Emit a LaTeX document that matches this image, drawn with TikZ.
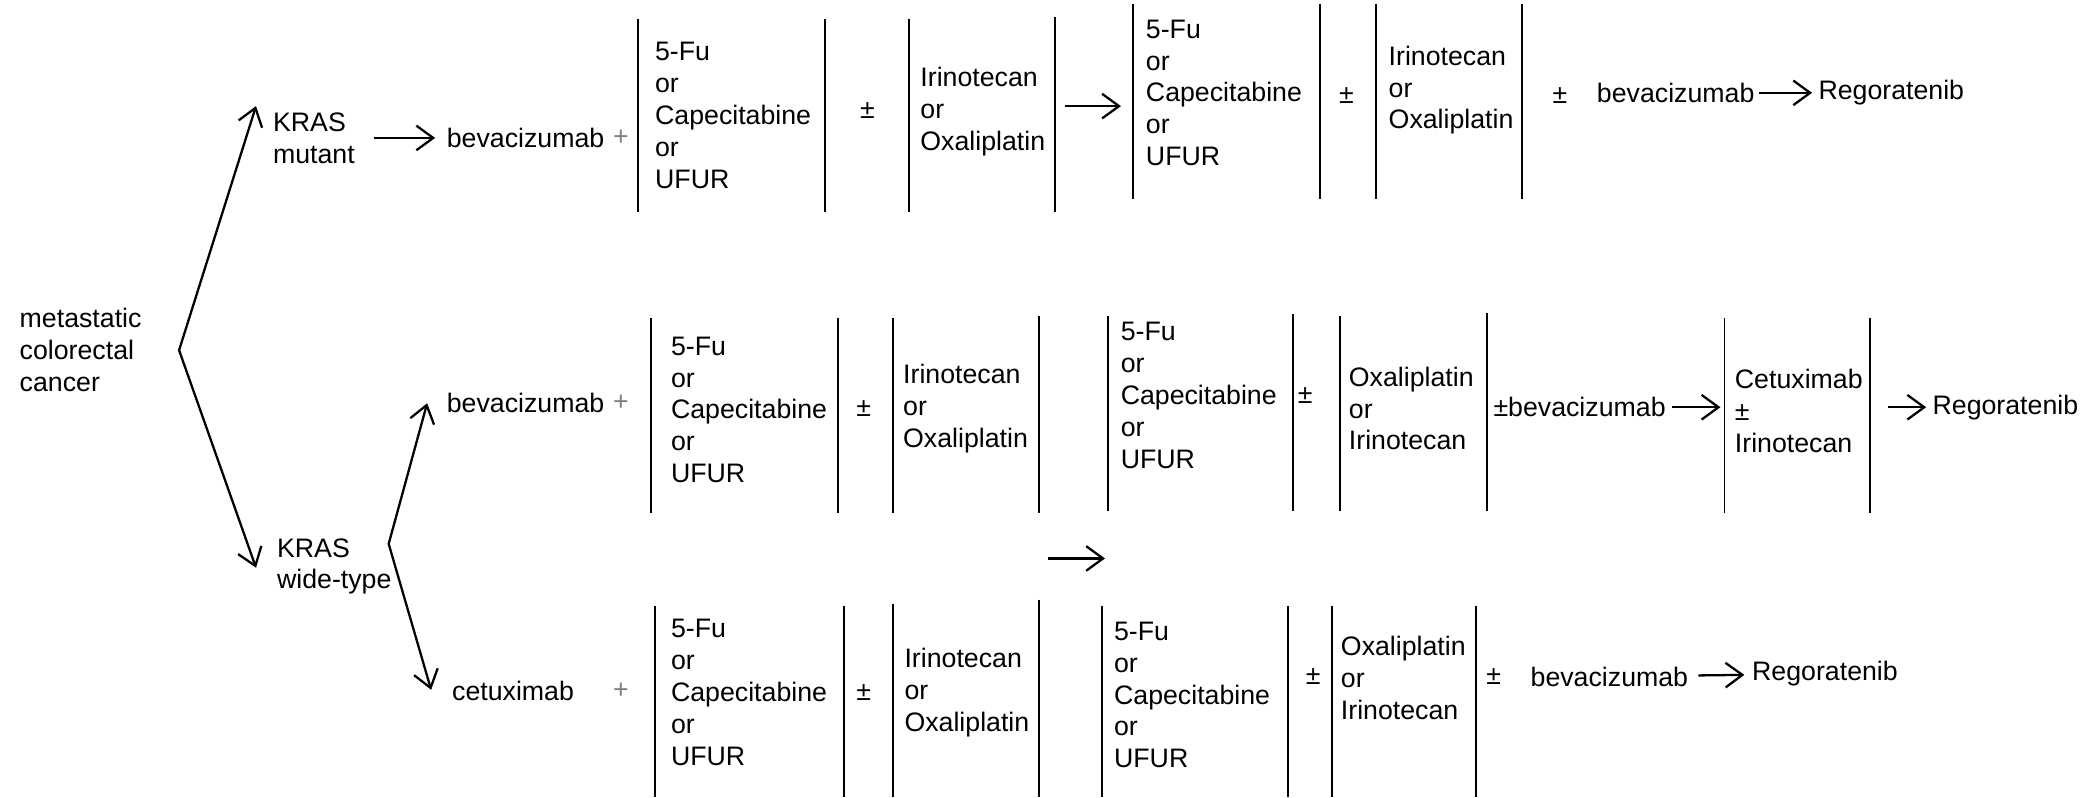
\documentclass[tikz,border=0pt]{standalone}
\usepackage{fontspec}
\setmainfont{Liberation Sans}
\usetikzlibrary{arrows.meta}

\begin{document}
\begin{tikzpicture}[x=0.1326mm,y=-0.1326mm,line width=0.65pt,
  every node/.style={font=\fontsize{7.6}{9.05}\selectfont},
  txt/.style={anchor=west,inner sep=0pt,align=left},
  pm/.style={inner sep=0pt},
  gplus/.style={inner sep=0pt,text=gray},
  >={Straight Barb[length=4.8pt,width=7pt]}]
\useasboundingbox (0,0) rectangle (1568,601);
\node[txt] (mcc) at (14,264) {metastatic\\colorectal\\cancer};
\node[txt] (km) at (205,104) {KRAS\\mutant};
\node[txt] (kw) at (208,427) {KRAS\\wide-type};
\coordinate (f0) at (135,264);
\coordinate (t1) at (193,80);
\coordinate (t2) at (193,428);
\coordinate (f1) at (293,410);
\coordinate (t3) at (322,304);
\coordinate (t4) at (325,520);
\draw[<->] (t1) -- (f0) -- (t2);
\draw[<->] (t3) -- (f1) -- (t4);
\foreach \x/\a/\b in {481/14/160,622/14/160,685/14/160,795/13/160,854/3/150,995/3/150,1037/3/150,1147/3/150,
  491/240/387,632/240/387,673/240/387,783/238/387,835/238/385,975/237/385,1010/238/385,1121/236/385,1300/240/387,1410/240/387,
  494/457/601,636/457/601,673/455/601,783/452/601,831/457/601,971/457/601,1004/457/601,1113/457/601}
  \draw[line width=0.55pt] (\x,\a) -- (\x,\b);
\node[txt] (bev1) at (336,104) {bevacizumab};
\node[gplus] (p1) at (468,104) {+};
\node[txt] (fu1) at (493,87) {5-Fu\\or\\Capecitabine\\or\\UFUR};
\node[pm] (pm1) at (654,83) {±};
\node[txt] (ir1) at (693,84) {Irinotecan\\or\\Oxaliplatin};
\node[txt] (fu2) at (863,70) {5-Fu\\or\\Capecitabine\\or\\UFUR};
\node[pm] (pm2) at (1015,72) {±};
\node[txt] (ir2) at (1046,68) {Irinotecan\\or\\Oxaliplatin};
\node[pm] (pm3) at (1176,72) {±};
\node[txt] (bev2) at (1203,70) {bevacizumab};
\node[txt] (reg1) at (1370,70) {Regoratenib};
\node[txt] (bev3) at (336,304) {bevacizumab};
\node[gplus] (p2) at (468,304) {+};
\node[txt] (fu3) at (505,309) {5-Fu\\or\\Capecitabine\\or\\UFUR};
\node[pm] (pm4) at (651,308) {±};
\node[txt] (ir3) at (680,308) {Irinotecan\\or\\Oxaliplatin};
\node[txt] (fu4) at (844,298) {5-Fu\\or\\Capecitabine\\or\\UFUR};
\node[pm] (pm5) at (984,298) {±};
\node[txt] (ox1) at (1016,308) {Oxaliplatin\\or\\Irinotecan};
\node[txt] (bev4) at (1125,307) {±bevacizumab};
\node[txt] (cet1) at (1307,310) {Cetuximab\\±\\Irinotecan};
\node[txt] (reg2) at (1456,307) {Regoratenib};
\node[txt] (cet2) at (340,521) {cetuximab};
\node[gplus] (p3) at (468,521) {+};
\node[txt] (fu5) at (505,522) {5-Fu\\or\\Capecitabine\\or\\UFUR};
\node[pm] (pm6) at (651,522) {±};
\node[txt] (ir4) at (681,522) {Irinotecan\\or\\Oxaliplatin};
\node[txt] (fu6) at (839,524) {5-Fu\\or\\Capecitabine\\or\\UFUR};
\node[pm] (pm7) at (990,510) {±};
\node[txt] (ox2) at (1010,511) {Oxaliplatin\\or\\Irinotecan};
\node[pm] (pm8) at (1126,510) {±};
\node[txt] (bev5) at (1153,510) {bevacizumab};
\node[txt] (reg3) at (1320,508) {Regoratenib};
\coordinate (c1) at (803,80);
\coordinate (c2) at (845,80);
\coordinate (m1) at (790,421);
\coordinate (m2) at (833,421);
\draw[->,shorten <=5pt,shorten >=3pt] (km) -- (bev1);
\draw[->] (c1) -- (c2);
\draw[->,shorten <=1pt,shorten >=1.5pt] (bev2) -- (reg1);
\draw[->] (m1) -- (m2);
\draw[->,shorten <=1.5pt,shorten >=3.8pt] (bev4) -- (cet1.west |- bev4);
\draw[->,shorten <=7pt,shorten >=1.5pt] (cet1.east |- reg2) -- (reg2);
\draw[->,shorten <=2.6pt,shorten >=1.9pt] (bev5) -- (reg3);
\end{tikzpicture}
\end{document}
